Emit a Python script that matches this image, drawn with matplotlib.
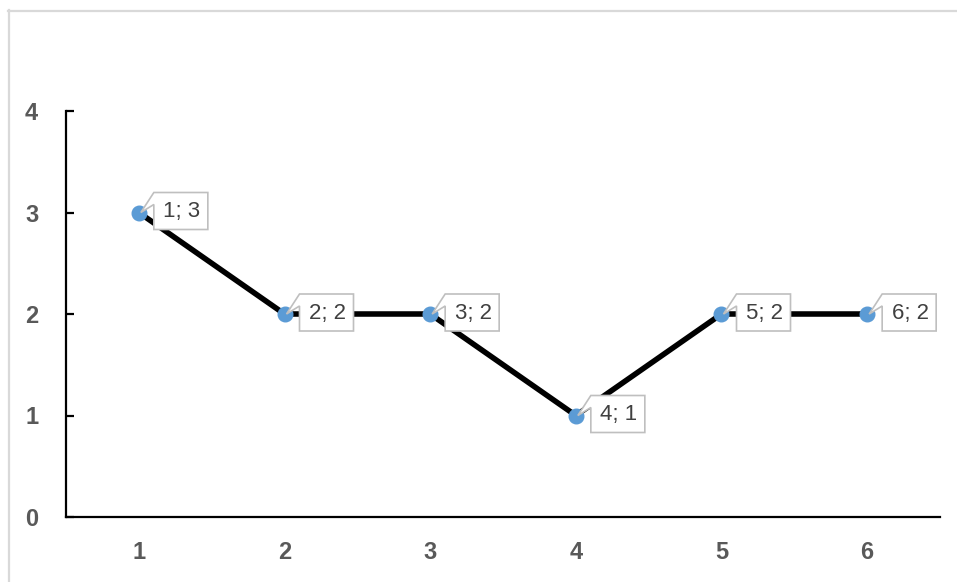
import matplotlib
matplotlib.use("Agg")
import matplotlib.pyplot as plt
from matplotlib.patches import Polygon
from matplotlib.lines import Line2D
from matplotlib.transforms import ScaledTranslation

# Series data
x_vals = [1, 2, 3, 4, 5, 6]
y_vals = [3, 2, 2, 1, 2, 2]
x_ticks = [1, 2, 3, 4, 5, 6]
y_ticks = [0, 1, 2, 3, 4]

DPI = 100
W, H = 957, 582
fig = plt.figure(figsize=(W / DPI, H / DPI), dpi=DPI)
plt.rcParams['font.family'] = ['Liberation Sans', 'DejaVu Sans']

# Light chart-area frame
fig.add_artist(Line2D([8.5 / W, 8.5 / W], [0, 1 - 10 / H], color='#d9d9d9',
                      lw=1.6, transform=fig.transFigure))
fig.add_artist(Line2D([8 / W, 1], [1 - 10.5 / H, 1 - 10.5 / H], color='#d9d9d9',
                      lw=1.6, transform=fig.transFigure))

ax = fig.add_axes([66 / W, 1 - 517 / H, (940 - 66) / W, (517 - 111) / H])
ax.set_xlim(0.5, 6.5)
ax.set_ylim(0, 4)

ax.plot(x_vals, y_vals, color='black', lw=4.0, zorder=2, solid_capstyle='butt')
ax.plot(x_vals, y_vals, linestyle='none', marker='o', markersize=10.5,
        markerfacecolor='#5b9bd5', markeredgecolor='#5b9bd5', zorder=3)

for s in ['top', 'right']:
    ax.spines[s].set_visible(False)
for s in ['left', 'bottom']:
    ax.spines[s].set_linewidth(1.6)
    ax.spines[s].set_color('black')

ax.set_xticks(x_ticks)
ax.set_yticks(y_ticks)
ax.tick_params(axis='x', length=0, pad=17, labelsize=17, labelcolor='#595959')
ax.tick_params(axis='y', direction='in', length=6, width=1.6, pad=20,
               labelsize=17, labelcolor='#595959')
for lab in ax.get_xticklabels() + ax.get_yticklabels():
    lab.set_fontweight('bold')

# Callout data labels
px = 1.0 / DPI
for xv, yv in zip(x_vals, y_vals):
    tr = fig.dpi_scale_trans + ScaledTranslation(xv, yv, ax.transData)
    verts = [(2 * px, 0), (15 * px, 20 * px), (69 * px, 20 * px), (69 * px, -17 * px),
             (15 * px, -17 * px), (15 * px, 8 * px)]
    poly = Polygon(verts, closed=True, facecolor='white', edgecolor='#bfbfbf',
                   lw=1.2, transform=tr, zorder=4, clip_on=False)
    fig.add_artist(poly)
    fig.text(43 * px, 1.0 * px, f"{xv}; {yv}", transform=tr, ha='center',
             va='center', fontsize=16, color='#404040', zorder=5)

fig.savefig('out.png', dpi=DPI)
